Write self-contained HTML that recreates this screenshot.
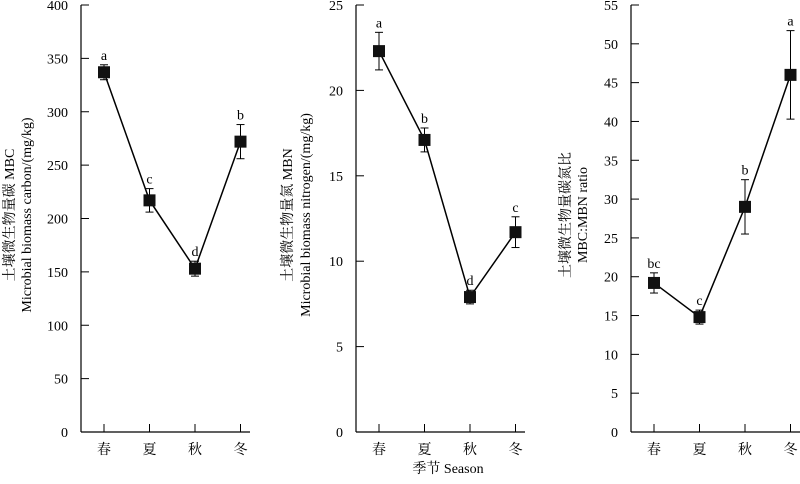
<!DOCTYPE html>
<html><head><meta charset="utf-8"><style>
body{margin:0;background:#fff}
svg text{font-family:"Liberation Serif","Noto Serif CJK SC",serif;fill:#000}
</style></head><body>
<svg id="c" width="800" height="479" viewBox="0 0 800 479" xmlns="http://www.w3.org/2000/svg"></svg>
<script>
const categories=["春","夏","秋","冬"];
const mbcValues=[337,217,153,272];
const mbcErr=[7,11,7,16];
const mbcLetters=["a","c","d","b"];
const mbcTicks=[0,50,100,150,200,250,300,350,400];
const mbnValues=[22.3,17.1,7.9,11.7];
const mbnErr=[1.1,0.7,0.4,0.9];
const mbnLetters=["a","b","d","c"];
const mbnTicks=[0,5,10,15,20,25];
const ratioValues=[19.2,14.8,29,46];
const ratioErr=[1.3,0.9,3.5,5.7];
const ratioLetters=["bc","c","b","a"];
const ratioTicks=[0,5,10,15,20,25,30,35,40,45,50,55];
const svg=document.getElementById('c');
const NS="http://www.w3.org/2000/svg";
function el(t,a,name,txt){const e=document.createElementNS(NS,t);for(const k in a)e.setAttribute(k,a[k]);


if(txt!==undefined)e.textContent=txt;svg.appendChild(e);return e;}
function panel(p,ax,xEnd,vals,errs,letters,ticks,titles,tx,ty,key){
 const top=5,bot=432,max=ticks[ticks.length-1];
 const y=v=>bot-(v/max)*(bot-top);
 const x=i=>ax+23+i*45.5;
 el('line',{x1:ax,y1:top,x2:ax,y2:bot,stroke:'#000','stroke-width':1.2},key+'-y-axis');
 el('line',{x1:ax,y1:bot,x2:xEnd,y2:bot,stroke:'#000','stroke-width':1.2},key+'-x-axis');
 ticks.forEach(t=>{el('line',{x1:ax,y1:y(t),x2:ax+8,y2:y(t),stroke:'#000'},key+'-y-tick');
  el('text',{x:ax-13,y:y(t)+5,'text-anchor':'end','font-size':14},key+'-y-tick-label',String(t));});
 categories.forEach((c,i)=>{el('line',{x1:x(i),y1:bot,x2:x(i),y2:bot-8,stroke:'#000'},key+'-x-tick');
  el('text',{x:x(i),y:bot+22,'text-anchor':'middle','font-size':14},key+'-x-tick-label',c);});
 let d=vals.map((v,i)=>(i?'L':'M')+x(i)+','+y(v)).join(' ');
 el('path',{d:d,fill:'none',stroke:'#000','stroke-width':1.5},key+'-line');
 vals.forEach((v,i)=>{const xi=x(i);
  el('line',{x1:xi,y1:y(v-errs[i]),x2:xi,y2:y(v+errs[i]),stroke:'#000'},key+'-error-bar');
  el('line',{x1:xi-4,y1:y(v+errs[i]),x2:xi+4,y2:y(v+errs[i]),stroke:'#000'},key+'-error-cap');
  el('line',{x1:xi-4,y1:y(v-errs[i]),x2:xi+4,y2:y(v-errs[i]),stroke:'#000'},key+'-error-cap');
  el('rect',{x:xi-6,y:y(v)-6,width:12,height:12,fill:'#111'},key+'-point');
  el('text',{x:xi,y:y(v+errs[i])-5,'text-anchor':'middle','font-size':14},key+'-sig-letter',letters[i]);});
 titles.forEach((t,j)=>{el('text',{x:0,y:0,'text-anchor':'middle','font-size':14,transform:`translate(${tx[j]},${ty}) rotate(-90)`},key+'-y-title',t);});
}
panel(0,81,250,mbcValues,mbcErr,mbcLetters,mbcTicks,["土壤微生物量碳 MBC","Microbial biomass carbon/(mg/kg)"],[14,31],215,'mbc');
panel(1,356,525,mbnValues,mbnErr,mbnLetters,mbnTicks,["土壤微生物量氮  MBN","Microbial biomass nitrogen/(mg/kg)"],[292,310],215,'mbn');
panel(2,631,800,ratioValues,ratioErr,ratioLetters,ratioTicks,["土壤微生物量碳氮比","MBC:MBN ratio"],[570,587],215,'ratio');
el('text',{x:448,y:473,'text-anchor':'middle','font-size':14},'x-axis-title','季节 Season');
</script>
</body></html>
